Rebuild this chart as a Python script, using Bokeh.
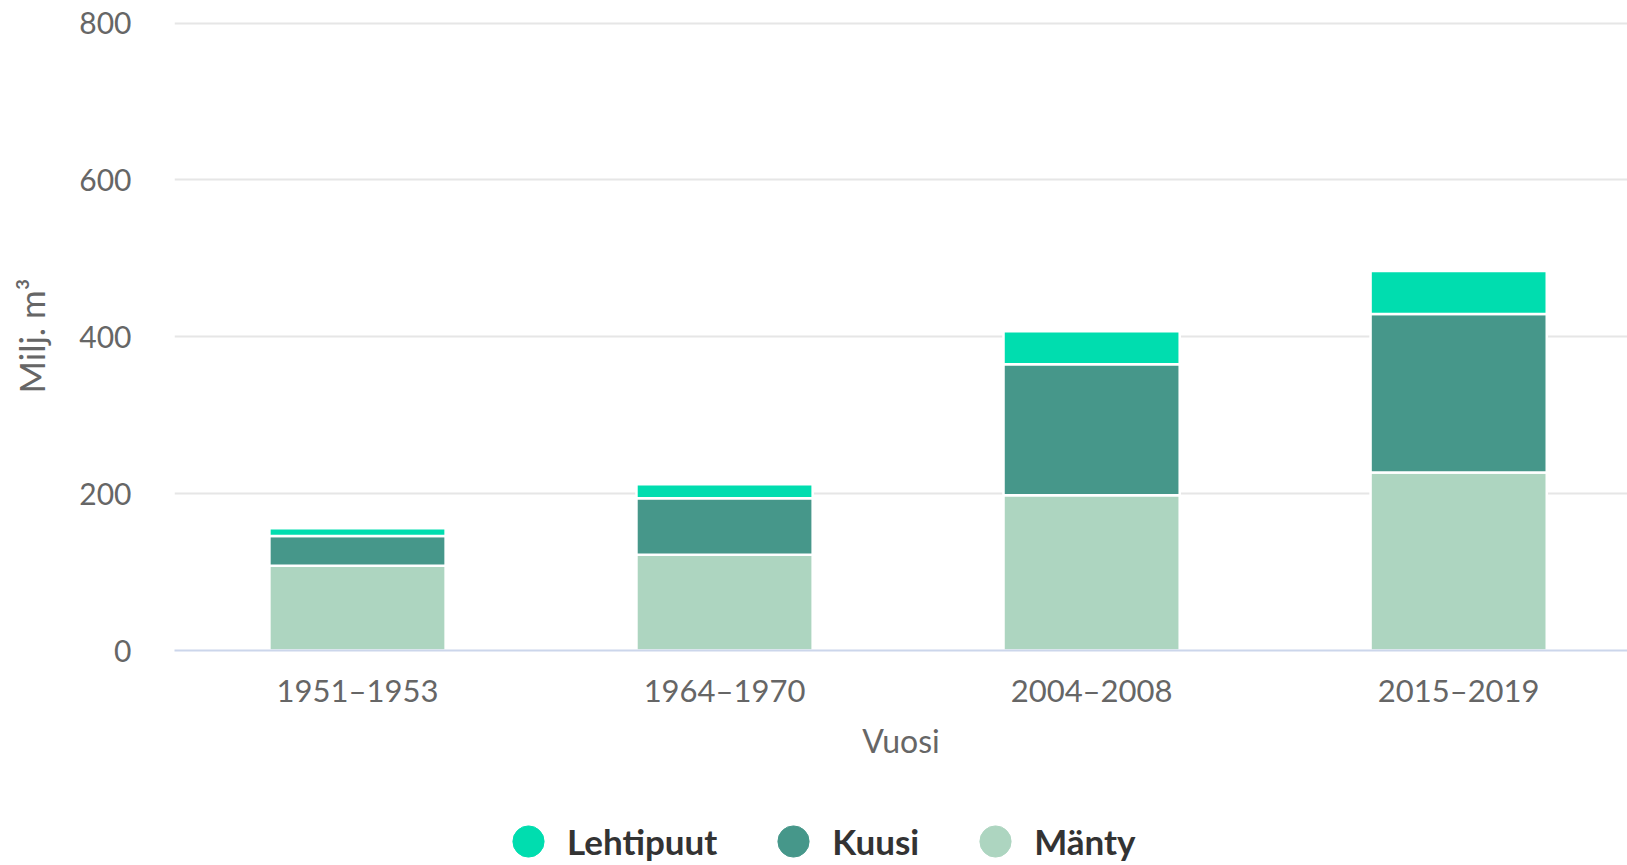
from bokeh.plotting import figure
from bokeh.models import ColumnDataSource, Range1d, FixedTicker, Legend, LegendItem
from bokeh.layouts import column
from bokeh.embed import file_html
from bokeh.resources import INLINE

# ---- data ----
periods = ["1951–1953", "1964–1970", "2004–2008", "2015–2019"]
manty = [108, 122, 198, 227]       # Mänty
kuusi = [38, 72, 167, 202]         # Kuusi
lehtipuut = [10, 18, 42, 55]       # Lehtipuut
y_ticks = [0, 200, 400, 600, 800]

series_names = ["Mänty", "Kuusi", "Lehtipuut"]
series_colors = ["#ADD5C0", "#46978A", "#00DDAF"]

xs = list(range(len(periods)))
src = ColumnDataSource(dict(x=xs, manty=manty, kuusi=kuusi, lehtipuut=lehtipuut))

W = 1627
H_MAIN = 780
H_LEG = 85

p = figure(width=W, height=H_MAIN, output_backend="svg", toolbar_location=None,
           x_range=Range1d(-0.4986, 3.46), y_range=Range1d(0, 802),
           min_border_left=174, min_border_right=0, min_border_top=21,
           min_border_bottom=H_MAIN - 650)
p.outline_line_color = None
p.background_fill_color = "white"
p.border_fill_color = "white"

p.vbar_stack(["manty", "kuusi", "lehtipuut"], x="x", width=0.48, source=src,
             color=series_colors, line_color="white", line_width=2.5)

# axes
p.xaxis.ticker = FixedTicker(ticks=xs)
p.xaxis.major_label_overrides = {i: s for i, s in enumerate(periods)}
p.xaxis.axis_line_color = "#ccd6eb"
p.xaxis.axis_line_width = 2
p.xaxis.major_tick_line_color = None
p.xaxis.minor_tick_line_color = None
p.xaxis.major_label_text_font = "Lato"
p.xaxis.major_label_text_font_size = "31px"
p.xaxis.major_label_text_color = "#666666"
p.xaxis.major_label_standoff = 14
p.xaxis.axis_label = "Vuosi"
p.xaxis.axis_label_text_font = "Lato"
p.xaxis.axis_label_text_font_size = "32px"
p.xaxis.axis_label_text_font_style = "normal"
p.xaxis.axis_label_text_color = "#666666"
p.xaxis.axis_label_standoff = 9

p.yaxis.ticker = FixedTicker(ticks=y_ticks)
p.yaxis.axis_line_color = None
p.yaxis.major_tick_line_color = None
p.yaxis.minor_tick_line_color = None
p.yaxis.major_label_text_font = "Lato"
p.yaxis.major_label_text_font_size = "30px"
p.yaxis.major_label_text_color = "#666666"
p.yaxis.major_label_standoff = 37
p.yaxis.axis_label = "Milj. m³"
p.yaxis.axis_label_text_font = "Lato"
p.yaxis.axis_label_text_font_size = "35px"
p.yaxis.axis_label_text_font_style = "normal"
p.yaxis.axis_label_text_color = "#666666"
p.yaxis.axis_label_standoff = 24

p.xgrid.grid_line_color = None
p.ygrid.grid_line_color = "#e6e6e6"
p.ygrid.grid_line_width = 2

# legend strip below the chart, with circle markers (proxy renderers, nothing drawn)
lg = figure(width=W, height=H_LEG, output_backend="svg", toolbar_location=None,
            x_range=Range1d(0, 1), y_range=Range1d(0, 1),
            x_axis_type=None, y_axis_type=None, min_border=0)
lg.outline_line_color = None
lg.xgrid.visible = False
lg.ygrid.visible = False

nan = float("nan")
items = []
for name, col in zip(series_names, series_colors):
    r = lg.scatter(x=[nan], y=[nan], marker="circle", size=10,
                   fill_color=col, line_color=col)
    items.append(LegendItem(label=name, renderers=[r]))
items = items[::-1]  # Lehtipuut, Kuusi, Mänty

legend = Legend(items=items, orientation="horizontal", location=(315, -15),
                glyph_width=78, glyph_height=78, label_standoff=-5, spacing=37,
                padding=0, margin=0, border_line_color=None, background_fill_alpha=0,
                label_text_font="Lato", label_text_font_style="bold",
                label_text_font_size="35px", label_text_color="#333333")
lg.add_layout(legend)

layout = column(p, lg, spacing=0)
open("out.html", "w").write(file_html(layout, INLINE))
